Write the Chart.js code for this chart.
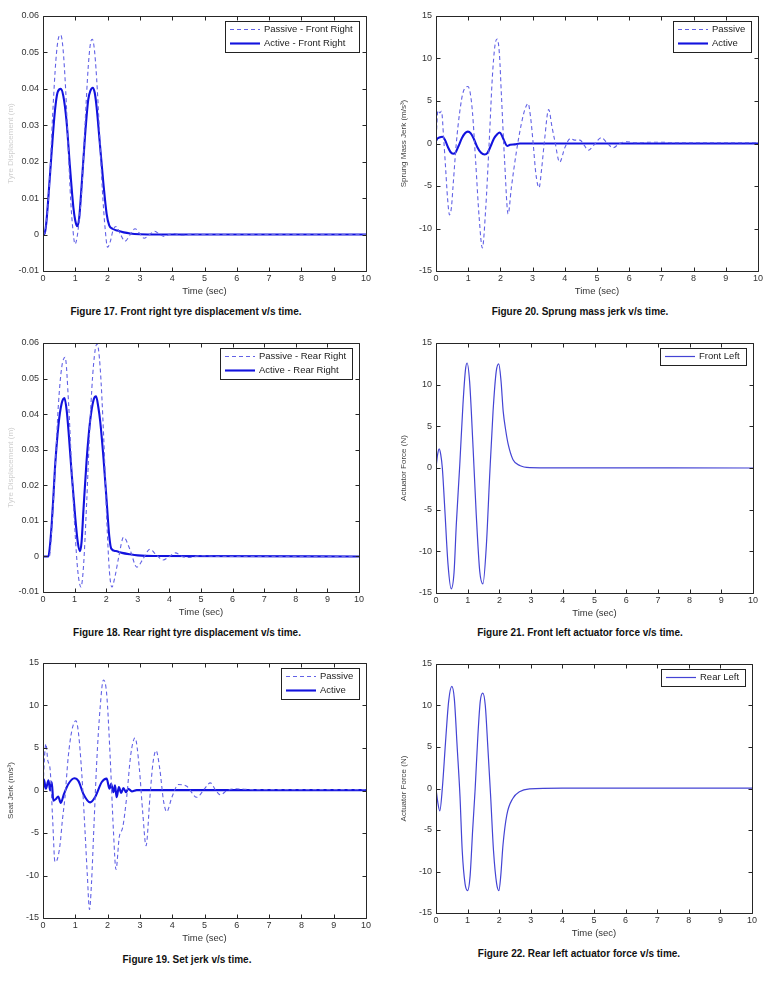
<!DOCTYPE html>
<html>
<head>
<meta charset="utf-8">
<title>Suspension response figures</title>
<script src="https://cdn.jsdelivr.net/npm/chart.js@4.4.0/dist/chart.umd.min.js"></script>
<style>
  body { margin: 0; background: #fff; }
  #page { position: relative; width: 765px; height: 982px; overflow: hidden; font-family: "Liberation Sans", Arial, sans-serif; }
  #page canvas { position: absolute; }
  .caption { position: absolute; width: 360px; text-align: center; font-weight: bold; font-size: 10px; line-height: 12px; color: #111; }
</style>
</head>
<body>
<div id="page"></div>
<script>
// ---- axis ticks ----
const timeTicks = [0, 1, 2, 3, 4, 5, 6, 7, 8, 9, 10];
const dispTicks = [-0.01, 0, 0.01, 0.02, 0.03, 0.04, 0.05, 0.06];
const jerkTicks = [-15, -10, -5, 0, 5, 10, 15];

// ---- Figure 17: front right tyre displacement (m) ----
const frPassiveTime = [0, 0.05, 0.1, 0.2, 0.3, 0.4, 0.48, 0.55, 0.62, 0.7, 0.78, 0.86, 0.93, 0.99, 1.05, 1.12, 1.2, 1.3, 1.4, 1.47, 1.53, 1.6, 1.68, 1.76, 1.84, 1.92, 2.0, 2.08, 2.17, 2.26, 2.4, 2.54, 2.7, 2.85, 3.0, 3.13, 3.3, 3.46, 3.62, 3.77, 3.9, 4.03, 4.3, 4.6, 5.0, 5.5, 10];
const frPassiveDisp = [0, 0.0003, 0.003, 0.014, 0.033, 0.048, 0.054, 0.0548, 0.051, 0.040, 0.024, 0.009, 0.001, -0.0026, -0.001, 0.004, 0.012, 0.030, 0.046, 0.0525, 0.0536, 0.050, 0.040, 0.026, 0.012, 0.002, -0.0035, -0.002, 0.0012, 0.0022, 0.0, -0.0018, 0.0, 0.0016, 0.0002, -0.001, 0.0, 0.0009, 0.0, -0.0005, 0.0, 0.0003, -0.0002, 0.0001, 0, 0, 0];
const frActiveTime = [0, 0.05, 0.1, 0.165, 0.27, 0.37, 0.45, 0.55, 0.63, 0.73, 0.835, 0.94, 1.0, 1.06, 1.12, 1.2, 1.3, 1.4, 1.47, 1.54, 1.6, 1.66, 1.76, 1.87, 1.97, 2.05, 2.15, 2.3, 2.5, 2.7, 3.0, 3.5, 10];
const frActiveDisp = [0, 0.0003, 0.003, 0.010, 0.023, 0.034, 0.039, 0.040, 0.038, 0.031, 0.0185, 0.0075, 0.0038, 0.0023, 0.0045, 0.014, 0.027, 0.037, 0.0395, 0.0403, 0.039, 0.035, 0.025, 0.014, 0.0057, 0.0025, 0.0016, 0.0011, 0.0006, 0.0003, 0.0001, 0, 0];

// ---- Figure 18: rear right tyre displacement (m) ----
const rrPassiveTime = [0, 0.2, 0.28, 0.38, 0.49, 0.59, 0.7, 0.81, 0.91, 1.02, 1.1, 1.2, 1.28, 1.38, 1.49, 1.6, 1.71, 1.81, 1.92, 2.02, 2.1, 2.18, 2.27, 2.4, 2.55, 2.75, 2.97, 3.18, 3.38, 3.6, 3.8, 4.0, 4.19, 4.4, 4.6, 5.0, 5.5, 10];
const rrPassiveDisp = [0, 0, 0.008, 0.024, 0.043, 0.053, 0.056, 0.043, 0.024, 0.006, -0.004, -0.0086, -0.003, 0.0148, 0.038, 0.054, 0.0598, 0.053, 0.0336, 0.010, -0.004, -0.0086, -0.006, 0.0, 0.0054, 0.002, -0.003, -0.0005, 0.002, 0.0003, -0.001, 0.0, 0.001, 0.0, -0.0003, 0.0002, 0, 0];
const rrActiveTime = [0, 0.17, 0.22, 0.275, 0.33, 0.38, 0.49, 0.59, 0.68, 0.75, 0.81, 0.91, 1.02, 1.1, 1.17, 1.22, 1.28, 1.38, 1.49, 1.6, 1.68, 1.75, 1.81, 1.92, 2.02, 2.1, 2.16, 2.3, 2.5, 2.75, 3.0, 3.5, 10];
const rrActiveDisp = [0, 0, 0.003, 0.009, 0.017, 0.025, 0.037, 0.043, 0.0445, 0.041, 0.035, 0.023, 0.011, 0.004, 0.0015, 0.004, 0.013, 0.027, 0.038, 0.044, 0.045, 0.042, 0.038, 0.027, 0.0148, 0.0054, 0.0022, 0.0015, 0.001, 0.0006, 0.0003, 0.0001, 0];

// ---- Figure 19: seat jerk (m/s^3) ----
const seatPassiveTime = [0, 0.04, 0.09, 0.15, 0.22, 0.3, 0.37, 0.45, 0.53, 0.6, 0.68, 0.78, 0.89, 1.02, 1.1, 1.2, 1.3, 1.37, 1.44, 1.5, 1.58, 1.66, 1.77, 1.87, 1.97, 2.08, 2.18, 2.26, 2.36, 2.47, 2.59, 2.72, 2.85, 2.98, 3.09, 3.19, 3.31, 3.4, 3.5, 3.62, 3.73, 3.83, 3.99, 4.19, 4.45, 4.76, 5.0, 5.18, 5.35, 5.49, 5.7, 5.95, 6.5, 10];
const seatPassiveJerk = [0, 3.5, 5.5, 3.5, 2.5, -3.5, -8.4, -8, -6.3, -3.5, -0.8, 3.9, 7, 8.2, 6.7, 2, -4.7, -9.8, -14, -11, -3.9, 3.1, 9.8, 13, 11.4, 3.9, -4.7, -9.3, -5.5, -4.3, -0.8, 4.3, 6.2, 2.7, -2.7, -6.5, -0.8, 3.1, 4.7, 2.4, -1.2, -2.5, -0.8, 0.7, 0.5, -0.8, 0.2, 0.9, 0, -0.5, 0, 0.2, 0.1, 0.1];
const seatActiveTime = [0, 0.03, 0.09, 0.17, 0.22, 0.27, 0.32, 0.4, 0.47, 0.55, 0.65, 0.79, 0.97, 1.1, 1.25, 1.46, 1.61, 1.82, 1.97, 2.06, 2.11, 2.18, 2.23, 2.28, 2.35, 2.42, 2.49, 2.57, 2.64, 2.75, 2.9, 3.2, 10];
const seatActiveJerk = [0, 1.3, 0.2, 1.2, 0, 1.0, -1.2, -1.0, -0.7, -1.45, -0.4, 0.8, 1.45, 1.1, -0.4, -1.4, -0.8, 1.0, 1.4, 0.2, 0.8, -0.2, 0.6, -0.8, 0.4, -0.3, 0.3, -0.2, 0.2, -0.1, 0.05, 0.05, 0.05];

// ---- Figure 20: sprung mass jerk (m/s^3) ----
const sprungPassiveTime = [0, 0.03, 0.06, 0.12, 0.17, 0.24, 0.3, 0.36, 0.42, 0.48, 0.53, 0.63, 0.74, 0.84, 0.99, 1.06, 1.13, 1.23, 1.34, 1.44, 1.54, 1.65, 1.75, 1.83, 1.9, 1.97, 2.03, 2.13, 2.24, 2.34, 2.5, 2.65, 2.76, 2.86, 2.94, 3.02, 3.1, 3.2, 3.28, 3.36, 3.5, 3.6, 3.69, 3.84, 4.0, 4.18, 4.3, 4.47, 4.6, 4.73, 4.9, 5.14, 5.3, 5.5, 5.7, 5.92, 6.2, 6.8, 7.5, 10];
const sprungPassiveJerk = [0, 2.5, 3.9, 3.6, 3.8, 0.5, -3, -6.5, -8.4, -7.5, -5, 0, 3.8, 6, 6.7, 6, 3.8, -2, -8.7, -12.3, -7.9, 0, 7.8, 11.5, 12.3, 10.5, 5.8, -2, -8.3, -5.2, -0.9, 2.3, 4, 4.7, 3.0, -0.1, -3.5, -5.2, -3, 0, 4.0, 2.0, 0.3, -2.2, -0.5, 0.6, 0.4, 0.4, -0.2, -0.8, -0.2, 0.7, 0.1, -0.5, 0, 0.2, 0.1, 0.15, 0.1, 0.1];
const sprungActiveTime = [0, 0.05, 0.1, 0.2, 0.28, 0.38, 0.45, 0.53, 0.6, 0.7, 0.8, 0.9, 0.99, 1.08, 1.18, 1.28, 1.4, 1.51, 1.6, 1.7, 1.8, 1.9, 1.98, 2.05, 2.13, 2.21, 2.3, 2.45, 2.6, 3.0, 10];
const sprungActiveJerk = [0.3, 0.6, 0.7, 0.8, 0.4, -0.5, -1.0, -1.2, -1.1, -0.3, 0.6, 1.2, 1.4, 1.2, 0.5, -0.4, -1.1, -1.3, -1.1, -0.3, 0.6, 1.1, 1.3, 0.9, 0.2, -0.3, -0.15, -0.1, 0, 0, 0];

// ---- Figure 21: front left actuator force ----
const flForceTime = [0, 0.05, 0.1, 0.15, 0.2, 0.27, 0.38, 0.48, 0.57, 0.64, 0.75, 0.85, 0.93, 0.98, 1.06, 1.17, 1.27, 1.38, 1.48, 1.59, 1.69, 1.8, 1.9, 1.98, 2.05, 2.12, 2.2, 2.28, 2.43, 2.64, 2.96, 3.8, 10];
const flForce = [0, 1.6, 2.3, 1.6, 0, -4.4, -11.6, -14.5, -12.5, -6.8, 0.4, 7.6, 11.8, 12.6, 10.4, 2.4, -5.6, -12.4, -13.9, -9.2, -1.2, 6.8, 11.6, 12.5, 10.5, 6.8, 4.5, 2.8, 1.0, 0.3, 0.05, 0.02, 0];

// ---- Figure 22: rear left actuator force ----
const rlForceTime = [0, 0.05, 0.12, 0.2, 0.3, 0.4, 0.5, 0.58, 0.67, 0.76, 0.83, 0.92, 1.0, 1.08, 1.16, 1.24, 1.32, 1.4, 1.48, 1.56, 1.64, 1.73, 1.82, 1.92, 1.99, 2.05, 2.12, 2.24, 2.43, 2.64, 2.96, 4.0, 10];
const rlForce = [0, -1.5, -2.7, 0, 5.5, 10.5, 12.3, 10.8, 5, -1, -7.5, -11.5, -12.3, -10.5, -5, 0, 6, 10.5, 11.5, 10, 5, -1, -7.5, -11.5, -12.3, -10.5, -6.8, -3.2, -1.2, -0.4, -0.05, 0.05, 0.05];

// line styles
const PASSIVE = { color: '#6262e6', width: 1.1, dash: [4, 3] };
const ACTIVE = { color: '#1212de', width: 2.1, dash: [] };
const FORCE = { color: '#4444d4', width: 1.2, dash: [] };

const FONT = '"Liberation Sans", Arial, sans-serif';
Chart.defaults.font.family = FONT;

function toPoints(times, values) {
    return times.map((t, i) => ({ x: t, y: values[i] }));
}

const dispFormat = v => (v === 0 ? '0' : v.toFixed(2));
const intFormat = v => String(v);

// frame + inward tick marks on all four sides (MATLAB look)
const boxTicks = {
    id: 'boxTicks',
    afterDatasetsDraw(chart) {
        const { ctx, chartArea: a, scales: { x, y } } = chart;
        const L = Math.round(a.left) + 0.5, R = Math.round(a.right) + 0.5;
        const T = Math.round(a.top) + 0.5, B = Math.round(a.bottom) + 0.5;
        ctx.save();
        ctx.strokeStyle = '#262626';
        ctx.lineWidth = 1;
        ctx.beginPath();
        ctx.rect(L, T, R - L, B - T);
        x.ticks.forEach(tk => {
            const px = Math.round(x.getPixelForValue(tk.value)) + 0.5;
            ctx.moveTo(px, B); ctx.lineTo(px, B - 4);
            ctx.moveTo(px, T); ctx.lineTo(px, T + 4);
        });
        y.ticks.forEach(tk => {
            const py = Math.round(y.getPixelForValue(tk.value)) + 0.5;
            ctx.moveTo(L, py); ctx.lineTo(L + 4, py);
            ctx.moveTo(R, py); ctx.lineTo(R - 4, py);
        });
        ctx.stroke();
        ctx.restore();
    }
};

// legend box inside the top-right corner of the plot
const insideLegend = {
    id: 'insideLegend',
    afterDraw(chart) {
        const { ctx, chartArea: a } = chart;
        const sets = chart.data.datasets;
        ctx.save();
        ctx.font = '9.5px ' + FONT;
        const textW = Math.max(...sets.map(d => ctx.measureText(d.label).width));
        const w = Math.round(5 + 30 + 4 + textW + 6);
        const h = sets.length * 14 + 3;
        const bx = Math.round(a.right - 7 - w), by = Math.round(a.top + 5);
        ctx.fillStyle = '#fff';
        ctx.fillRect(bx, by, w, h);
        ctx.strokeStyle = '#222';
        ctx.lineWidth = 1;
        ctx.strokeRect(bx + 0.5, by + 0.5, w, h);
        sets.forEach((d, i) => {
            const cy = by + 8.5 + i * 14;
            ctx.beginPath();
            ctx.setLineDash(d.borderDash || []);
            ctx.strokeStyle = d.borderColor;
            ctx.lineWidth = d.borderWidth;
            ctx.moveTo(bx + 5, cy);
            ctx.lineTo(bx + 35, cy);
            ctx.stroke();
            ctx.setLineDash([]);
            ctx.fillStyle = '#222';
            ctx.textBaseline = 'middle';
            ctx.fillText(d.label, bx + 39, cy);
        });
        ctx.restore();
    }
};

const panels = [
    {
        rect: [43, 16, 366, 271], yTicks: dispTicks, yFormat: dispFormat,
        yLabel: 'Tyre Displacement (m)', yLabelColor: '#cfcfcf',
        caption: 'Figure 17. Front right tyre displacement v/s time.', cx: 186, cy: 312,
        series: [
            { label: 'Passive - Front Right', time: frPassiveTime, values: frPassiveDisp, style: PASSIVE },
            { label: 'Active - Front Right', time: frActiveTime, values: frActiveDisp, style: ACTIVE }
        ]
    },
    {
        rect: [436, 16, 758, 271], yTicks: jerkTicks, yFormat: intFormat,
        yLabel: 'Sprung Mass Jerk (m/s³)', yLabelColor: '#444',
        caption: 'Figure 20. Sprung mass jerk v/s time.', cx: 580, cy: 312,
        series: [
            { label: 'Passive', time: sprungPassiveTime, values: sprungPassiveJerk, style: PASSIVE },
            { label: 'Active', time: sprungActiveTime, values: sprungActiveJerk, style: ACTIVE }
        ]
    },
    {
        rect: [43, 343, 359, 592], yTicks: dispTicks, yFormat: dispFormat,
        yLabel: 'Tyre Displacement (m)', yLabelColor: '#cfcfcf',
        caption: 'Figure 18. Rear right tyre displacement v/s time.', cx: 187, cy: 633,
        series: [
            { label: 'Passive - Rear Right', time: rrPassiveTime, values: rrPassiveDisp, style: PASSIVE },
            { label: 'Active - Rear Right', time: rrActiveTime, values: rrActiveDisp, style: ACTIVE }
        ]
    },
    {
        rect: [436, 343, 753, 593], yTicks: jerkTicks, yFormat: intFormat,
        yLabel: 'Actuator Force (N)', yLabelColor: '#444',
        caption: 'Figure 21. Front left actuator force v/s time.', cx: 580, cy: 633,
        series: [
            { label: 'Front Left', time: flForceTime, values: flForce, style: FORCE }
        ]
    },
    {
        rect: [43, 663, 366, 918], yTicks: jerkTicks, yFormat: intFormat,
        yLabel: 'Seat Jerk (m/s³)', yLabelColor: '#444',
        caption: 'Figure 19. Set jerk v/s time.', cx: 187, cy: 960,
        series: [
            { label: 'Passive', time: seatPassiveTime, values: seatPassiveJerk, style: PASSIVE },
            { label: 'Active', time: seatActiveTime, values: seatActiveJerk, style: ACTIVE }
        ]
    },
    {
        rect: [436, 664, 752, 913], yTicks: jerkTicks, yFormat: intFormat,
        yLabel: 'Actuator Force (N)', yLabelColor: '#444',
        caption: 'Figure 22. Rear left actuator force v/s time.', cx: 579, cy: 954,
        series: [
            { label: 'Rear Left', time: rlForceTime, values: rlForce, style: FORCE }
        ]
    }
];

const page = document.getElementById('page');

function buildPanel(p) {
    const [l, t, r, b] = p.rect;
    const w = r - l + 40 + 14;
    const h = b - t + 10 + 32;
    const canvas = document.createElement('canvas');
    canvas.width = w;
    canvas.height = h;
    canvas.style.left = (l - 40) + 'px';
    canvas.style.top = (t - 10) + 'px';
    canvas.style.width = w + 'px';
    canvas.style.height = h + 'px';
    page.appendChild(canvas);

    new Chart(canvas, {
        type: 'line',
        data: {
            datasets: p.series.map(s => ({
                label: s.label,
                data: toPoints(s.time, s.values),
                borderColor: s.style.color,
                borderWidth: s.style.width,
                borderDash: s.style.dash,
                pointRadius: 0,
                fill: false,
                cubicInterpolationMode: 'monotone'
            }))
        },
        options: {
            responsive: false,
            animation: false,
            events: [],
            layout: { padding: { left: 0, top: 10, right: 14, bottom: 0 } },
            plugins: {
                legend: { display: false },
                tooltip: { enabled: false }
            },
            scales: {
                x: {
                    type: 'linear',
                    min: timeTicks[0],
                    max: timeTicks[timeTicks.length - 1],
                    afterBuildTicks: s => { s.ticks = timeTicks.map(v => ({ value: v })); },
                    afterFit: s => { s.height = 32; },
                    grid: { display: false, drawTicks: false },
                    border: { display: false },
                    ticks: { padding: 2, color: '#333', font: { size: 9 }, maxRotation: 0, autoSkip: false, callback: v => String(v) },
                    title: { display: true, text: 'Time (sec)', color: '#333', font: { size: 9.5 }, padding: { top: 0, bottom: 5.5 } }
                },
                y: {
                    type: 'linear',
                    min: p.yTicks[0],
                    max: p.yTicks[p.yTicks.length - 1],
                    afterBuildTicks: s => { s.ticks = p.yTicks.map(v => ({ value: v })); },
                    afterFit: s => { s.width = 40; },
                    grid: { display: false, drawTicks: false },
                    border: { display: false },
                    ticks: { padding: 4, color: '#333', font: { size: 9 }, autoSkip: false, callback: p.yFormat },
                    title: { display: true, text: p.yLabel, color: p.yLabelColor, font: { size: 8 }, padding: { top: 2.5, bottom: 0 } }
                }
            }
        },
        plugins: [boxTicks, insideLegend]
    });

    const cap = document.createElement('div');
    cap.className = 'caption';
    cap.textContent = p.caption;
    cap.style.left = (p.cx - 180) + 'px';
    cap.style.top = (p.cy - 6) + 'px';
    page.appendChild(cap);
}

panels.forEach(buildPanel);
</script>
</body>
</html>
